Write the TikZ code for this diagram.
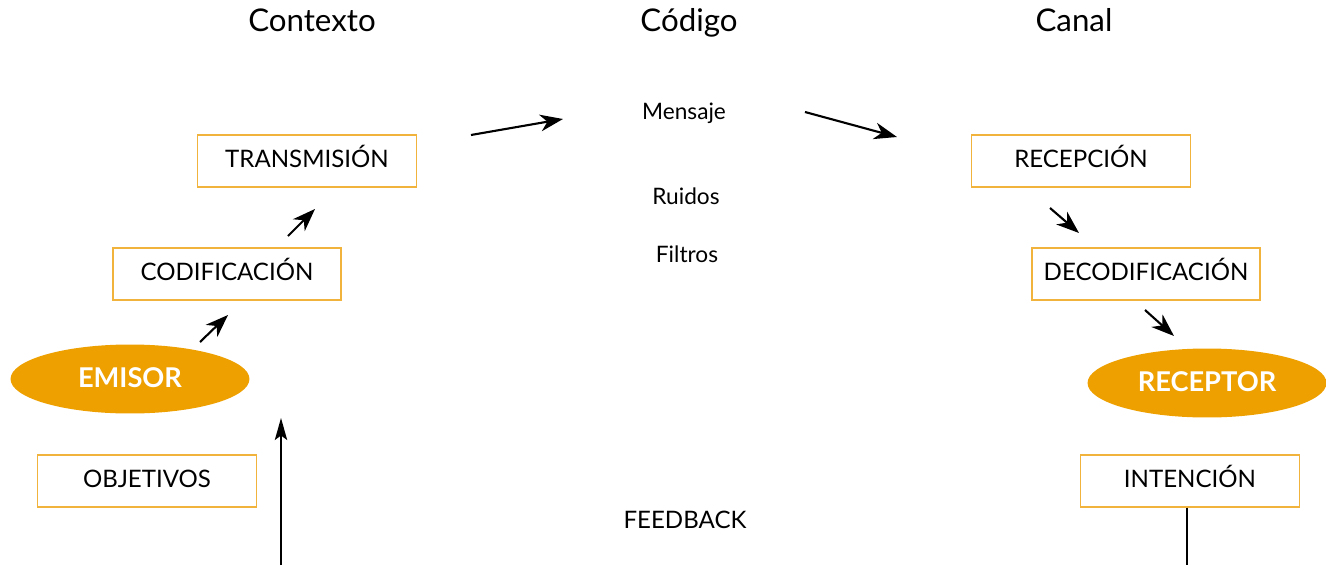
\documentclass[tikz,border=0pt]{standalone}
\usepackage{fontspec}
\setmainfont{Lato}
\usetikzlibrary{shapes.geometric,arrows.meta}
\definecolor{naranja}{HTML}{EDA000}
\definecolor{borde}{HTML}{F2B33D}
\tikzset{
    caja/.style={draw=borde,line width=0.8pt,minimum width=4.38cm,minimum height=1.04cm,inner sep=0pt,text height=0.72em,text depth=0pt,font=\fontsize{13.7}{16}\selectfont},
    elipse/.style={ellipse,fill=naranja,minimum width=4.78cm,minimum height=1.38cm,inner sep=0pt,text=white,text height=0.92em,text depth=0pt,font=\bfseries\fontsize{15.5}{18}\selectfont},
    titulo/.style={text height=0.75em,text depth=0.22em,font=\fontsize{17.8}{21}\selectfont},
    etiqueta/.style={text height=0.75em,text depth=0.22em,font=\fontsize{12.9}{15}\selectfont},
    flecha/.style={-{Stealth[length=13pt,width=9.5pt,inset=4pt]},line width=1.2pt},
    flechalarga/.style={-{Stealth[length=12.5pt,width=7pt,inset=2.5pt]},line width=1pt}
}
\begin{document}
\begin{tikzpicture}[x=0.02cm,y=-0.02cm]
        \useasboundingbox(0,0)rectangle(1326,565);
        \node[titulo](contexto)at(312,27){Contexto};
        \node[titulo](codigo)at(689,27){Código};
        \node[titulo](canal)at(1074,27){Canal};
        \node[etiqueta](mensaje)at(684,115){Mensaje};
        \node[etiqueta](ruidos)at(686,200){Ruidos};
        \node[etiqueta](filtros)at(687,258){Filtros};
        \node[caja,draw=none](feedback)at(685,522){FEEDBACK};
        \node[caja](transmision)at(307,161){TRANSMISIÓN};
        \node[caja,minimum width=4.56cm](codificacion)at(227,274){CODIFICACIÓN};
        \node[elipse](emisor)at(130,379){EMISOR};
        \node[caja](objetivos)at(147,481){OBJETIVOS};
        \node[caja](recepcion)at(1081,161){RECEPCIÓN};
        \node[caja,minimum width=4.56cm](decodificacion)at(1146,274){DECODIFICACIÓN};
        \node[elipse](receptor)at(1207,383){RECEPTOR};
        \node[caja](intencion)at(1190,481){INTENCIÓN};
        % extremos de las flechas
        \coordinate(e1)at(200,342);
        \coordinate(c1)at(228,315);
        \coordinate(c2)at(288,236);
        \coordinate(t1)at(315,209);
        \coordinate(t2)at(471,135);
        \coordinate(m1)at(563,119);
        \coordinate(m2)at(805,112);
        \coordinate(r1)at(897,137);
        \coordinate(r2)at(1050,208);
        \coordinate(d1)at(1079,233);
        \coordinate(d2)at(1145,310);
        \coordinate(p1)at(1174,336);
        \coordinate(f1)at(281,565);
        \coordinate(f2)at(281,418);
        \coordinate(f3)at(1187,565);
        \draw[flecha](e1)--(c1);
        \draw[flecha](c2)--(t1);
        \draw[flecha](t2)--(m1);
        \draw[flecha](m2)--(r1);
        \draw[flecha](r2)--(d1);
        \draw[flecha](d2)--(p1);
        \draw[flechalarga](f1)--(f2);
        \draw[line width=1pt](intencion.south-|f3)--(f3);
    \end{tikzpicture}
\end{document}
